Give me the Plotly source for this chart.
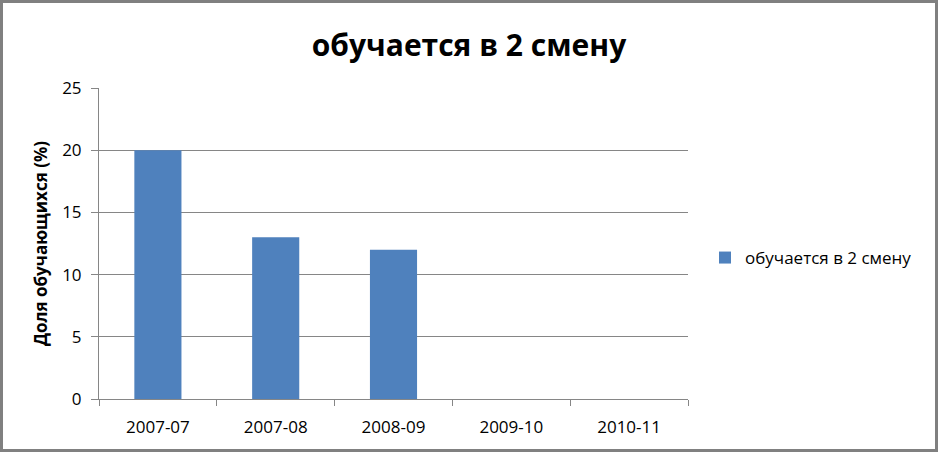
import plotly.graph_objects as go

categories = ["2007-07", "2007-08", "2008-09", "2009-10", "2010-11"]
values = [20, 13, 12, 0, 0]
series_name = "обучается в 2 смену"
title_text = "обучается в 2 смену"
y_title = "Доля обучающихся (%)"

W, H = 938, 452
ml, mr, mt, mb = 99, 250, 88, 53
pw, ph = W - ml - mr, H - mt - mb

fig = go.Figure()
fig.add_trace(go.Bar(x=categories, y=values, name=series_name,
                     marker=dict(color="#4F81BD", line=dict(width=0))))

font = "Open Sans, Liberation Sans, sans-serif"
fig.update_layout(
    width=W, height=H,
    margin=dict(l=ml, r=mr, t=mt, b=mb),
    paper_bgcolor="white", plot_bgcolor="white",
    bargap=0.6,
    showlegend=True,
    title=dict(text="<b>" + title_text + "</b>", x=0.5, xanchor="center",
               y=1 - 45 / H, yanchor="middle",
               font=dict(family=font, size=30, color="black")),
    legend=dict(x=(705 - ml) / pw, y=(H - mb - 258) / ph, xanchor="left", yanchor="middle",
                font=dict(family=font, size=17, color="black"),
                itemwidth=30, bgcolor="rgba(0,0,0,0)"),
    font=dict(family=font, size=17, color="black"),
    xaxis=dict(type="category", showline=True, linecolor="#868686", linewidth=1,
               ticks="outside", tickson="boundaries", ticklen=6, tickcolor="#868686",
               showgrid=False, tickfont=dict(size=17), ticklabelstandoff=13,
               fixedrange=True),
    yaxis=dict(range=[0, 25], dtick=5, showline=True, linecolor="#868686", linewidth=1,
               ticks="outside", ticklen=7, tickcolor="#868686",
               showgrid=True, gridcolor="#868686", gridwidth=1, zeroline=False,
               tickfont=dict(size=17), ticklabelstandoff=6, fixedrange=True,
               title=dict(text="<b>" + y_title + "</b>", font=dict(size=17), standoff=10)),
    shapes=[dict(type="rect", xref="paper", yref="paper",
                 x0=(-ml + 1.5) / pw, x1=(W - ml - 1.5) / pw,
                 y0=(-mb + 1.5) / ph, y1=1 + (mt - 1.5) / ph,
                 line=dict(color="#808080", width=3), fillcolor="rgba(0,0,0,0)", layer="below")],
)

fig.write_html("out.html", config={"displayModeBar": False},
               post_script="document.body.style.margin='0';document.body.style.overflow='hidden';")
